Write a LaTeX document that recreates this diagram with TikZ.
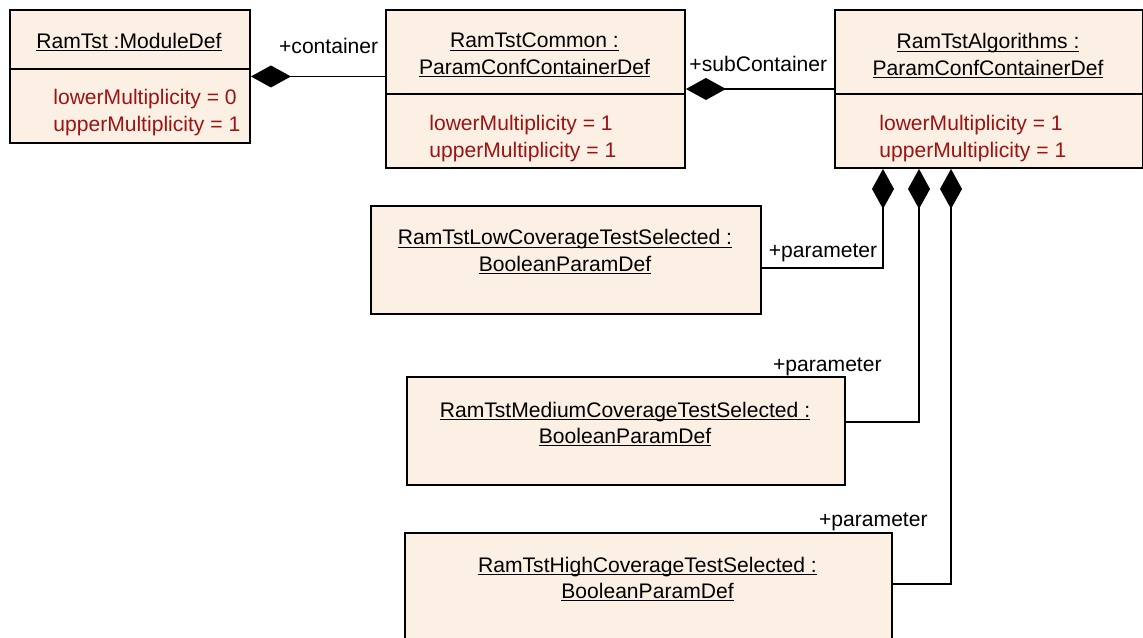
\documentclass[tikz,border=0pt]{standalone}
\usepackage{fontspec}
\setmainfont{Liberation Sans}
\usetikzlibrary{arrows.meta}

\definecolor{boxfill}{RGB}{251,240,227}
\definecolor{attrred}{RGB}{155,20,20}

\newcommand{\uname}[1]{\underline{\smash{#1}}}

\begin{document}
\begin{tikzpicture}[x=0.2mm, y=-0.2mm,
    font={\fontsize{12}{14.8}\selectfont},
    classbox/.style={draw, line width=1.1pt, fill=boxfill, anchor=north west, inner sep=0pt},
    title/.style={align=center, inner sep=0pt, anchor=base},
    attr/.style={align=left, inner sep=0pt, anchor=base west, text=attrred},
    divider/.style={line width=0.6pt},
    comp/.style={line width=0.9pt, {Diamond[length=8mm, width=4.4mm]}-},
    role/.style={inner sep=0pt, anchor=base east}]

    \useasboundingbox (0,0) rectangle (1143,637);

    \node[classbox, minimum width=48mm, minimum height=26.6mm] (module) at (9,9) {};
    \node[classbox, minimum width=59.8mm, minimum height=31.6mm] (common) at (385,9) {};
    \node[classbox, minimum width=61.6mm, minimum height=31.6mm] (algo) at (834,9) {};
    \node[classbox, minimum width=78mm, minimum height=21.6mm] (low) at (370,205) {};
    \node[classbox, minimum width=87.6mm, minimum height=21.6mm] (medium) at (406,376) {};
    \node[classbox, minimum width=97.4mm, minimum height=21.6mm] (high) at (404,532) {};

    \draw[divider] ([yshift=-12mm]module.north west) -- ([yshift=-12mm]module.north east);
    \draw[divider] ([yshift=-17mm]common.north west) -- ([yshift=-17mm]common.north east);
    \draw[divider] ([yshift=-17mm]algo.north west) -- ([yshift=-17mm]algo.north east);

    % multi-line nodes sit on the baseline of their last line
    \node[title] (module-name) at (129,48) {\uname{RamTst :ModuleDef}};
    \node[title] (common-name) at (534.5,74) {\uname{RamTstCommon :}\\\uname{ParamConfContainerDef}};
    \node[title] (algo-name) at (988,75) {\uname{RamTstAlgorithms :}\\\uname{ParamConfContainerDef}};
    \node[title] (low-name) at (565,271) {\uname{RamTstLowCoverageTestSelected :}\\\uname{BooleanParamDef}};
    \node[title] (medium-name) at (625,443) {\uname{RamTstMediumCoverageTestSelected :}\\\uname{BooleanParamDef}};
    \node[title] (high-name) at (647.5,598) {\uname{RamTstHighCoverageTestSelected :}\\\uname{BooleanParamDef}};

    \node[attr] (module-attr) at (53,131) {lowerMultiplicity = 0\\upperMultiplicity = 1};
    \node[attr] (common-attr) at (429,157) {lowerMultiplicity = 1\\upperMultiplicity = 1};
    \node[attr] (algo-attr) at (879,157) {lowerMultiplicity = 1\\upperMultiplicity = 1};

    \draw[comp] (module.east) -- (module.east -| common.west)
        node[role, pos=1, xshift=-1.2mm, yshift=4.6mm] {+container};
    \draw[comp] (common.east) -- (common.east -| algo.west)
        node[role, pos=1, xshift=-1.2mm, yshift=3.4mm] {+subContainer};
    \draw[comp] ([xshift=9.8mm]algo.south west) |- ([yshift=-1.6mm]low.east)
        node[role, pos=0.5, xshift=-1mm, yshift=2mm] {+parameter};
    \draw[comp] ([xshift=17mm]algo.south west) |- ([yshift=1.8mm]medium.east);
    \draw[comp] ([xshift=23.4mm]algo.south west) |- ([yshift=0.6mm]high.east);

    \node[role] (medium-role) at ([xshift=7.2mm, yshift=1mm]medium.north east) {+parameter};
    \node[role] (high-role) at ([xshift=7mm, yshift=1.2mm]high.north east) {+parameter};
    %
\end{tikzpicture}
\end{document}
